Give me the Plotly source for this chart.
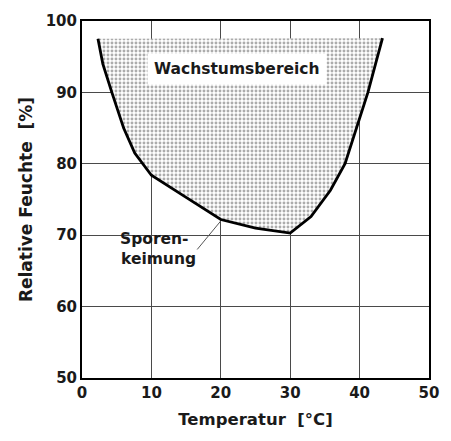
import plotly.graph_objects as go

# Boundary of the growth region (temperature °C, relative humidity %)
temp = [2.3, 3.0, 4.3, 6.0, 7.6, 10.0, 15.0, 20.0, 25.0, 30.0, 33.0, 35.8, 37.9, 39.6, 41.2, 42.3, 43.3]
humid = [97.5, 94.0, 90.0, 85.0, 81.5, 78.4, 75.3, 72.2, 71.0, 70.3, 72.6, 76.3, 80.0, 85.0, 90.0, 94.0, 97.6]

x_ticks = [0, 10, 20, 30, 40, 50]
y_ticks = [50, 60, 70, 80, 90, 100]

region_label = "Wachstumsbereich"
spore_lines = ["Sporen-", "keimung"]
x_title = "Temperatur  [°C]"
y_title = "Relative Feuchte  [%]"

FONT = "DejaVu Sans, sans-serif"
TXT = "#1a1a1a"

fig = go.Figure()

# patterned fill
fig.add_trace(go.Scatter(
    x=temp, y=humid, mode="lines", fill="toself",
    line=dict(width=0, color="rgba(0,0,0,0)"),
    fillcolor="rgba(0,0,0,0)",
    fillpattern=dict(shape=".", fgcolor="#5a5a5a", bgcolor="white", size=4, solidity=0.42),
    hoverinfo="skip", showlegend=False,
))

# boundary curve
fig.add_trace(go.Scatter(
    x=temp, y=humid, mode="lines",
    line=dict(color="black", width=2.8),
    showlegend=False,
))

# leader line for Sporenkeimung
fig.add_trace(go.Scatter(
    x=[16.6, 20.0], y=[68.0, 72.0], mode="lines",
    line=dict(color="#555", width=1),
    showlegend=False, hoverinfo="skip",
))

fig.add_annotation(
    x=22.4, y=93.3, text=region_label, showarrow=False,
    font=dict(family=FONT, size=15.5, color=TXT, weight="bold"),
    bgcolor="white", borderpad=6,
)
fig.add_annotation(
    x=5.4, y=69.5, text=spore_lines[0], showarrow=False, xanchor="left",
    font=dict(family=FONT, size=15.5, color=TXT, weight="bold"),
    borderpad=0,
)
fig.add_annotation(
    x=5.5, y=66.6, text=spore_lines[1], showarrow=False, xanchor="left",
    font=dict(family=FONT, size=15.5, color=TXT, weight="bold"),
    borderpad=0,
)

axis_common = dict(
    showgrid=True, gridcolor="#4a4a4a", gridwidth=1.3,
    showline=True, linecolor="black", linewidth=2, mirror=True,
    ticks="", zeroline=False,
    tickfont=dict(family=FONT, size=15, color=TXT, weight="bold"),
)

fig.update_xaxes(range=[0, 50], tickvals=x_ticks, ticktext=[str(v) for v in x_ticks],
                 title=dict(text=x_title, font=dict(family=FONT, size=16.5, color=TXT, weight="bold"), standoff=12),
                 **axis_common)
fig.update_yaxes(range=[50, 100], tickvals=y_ticks, ticktext=[str(v) for v in y_ticks],
                 title=dict(text=y_title, font=dict(family=FONT, size=17, color=TXT, weight="bold"), standoff=9),
                 **axis_common)

fig.update_layout(
    width=451, height=441,
    margin=dict(l=82, r=18, t=20, b=63),
    plot_bgcolor="white", paper_bgcolor="white",
    showlegend=False,
)

fig.write_html("out.html")
